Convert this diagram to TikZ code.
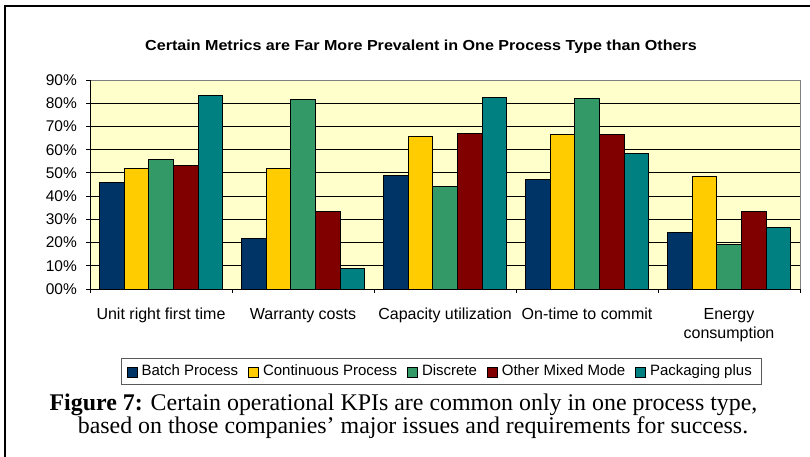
\documentclass[tikz,border=0pt]{standalone}
\usepackage{fontspec}
\setmainfont{Liberation Serif}
\setsansfont{Liberation Sans}
\usetikzlibrary{positioning}

\definecolor{batchc}{HTML}{003366}
\definecolor{contc}{HTML}{FFCC00}
\definecolor{discc}{HTML}{339966}
\definecolor{mixedc}{HTML}{800000}
\definecolor{packc}{HTML}{008080}
\definecolor{plotbg}{HTML}{FFFFCC}
\definecolor{rimgray}{HTML}{808080}

\tikzset{
  chartfont/.style={font=\sffamily\fontsize{15}{17}\selectfont},
  bar/.style={draw=black, line width=0.9pt},
  grid line/.style={black, line width=0.8pt},
  axis line/.style={black, line width=1pt},
  ylabel/.style={font=\sffamily\fontsize{15.5}{17}\selectfont, anchor=east, inner sep=0pt},
  catlabel/.style={font=\sffamily\fontsize{16}{18}\selectfont, anchor=base, inner sep=0pt},
  keybox/.style={draw=black, line width=0.8pt, minimum size=10pt, inner sep=0pt},
  keytext/.style={chartfont, inner sep=0pt, anchor=west, text height=10.8pt, text depth=3.5pt},
  captionfont/.style={font=\fontsize{23.9}{26}\selectfont, inner sep=0pt, anchor=base}
}

\begin{document}
\begin{tikzpicture}[x=1pt, y=-1pt]
\useasboundingbox (0,0) rectangle (810,456);
\fill[white] (0,0) rectangle (810,456);

% outer frame (left and top edges)
\draw[line width=2pt] (4.5,460) -- (4.5,6) -- (812,6);

% chart title
\node[font=\sffamily\bfseries\fontsize{14.5}{16}\selectfont, inner sep=0pt] (title) at (421,46.5)
  {\scalebox{1.11}[1]{Certain Metrics are Far More Prevalent in One Process Type than Others}};

% plot area
\fill[plotbg] (90,80) rectangle (800,289);
\foreach \k in {1,...,8} {
  \draw[grid line] (90,{289-\k*23.222}) -- (800,{289-\k*23.222});
}
\draw[rimgray, line width=1pt] (90,80) -- (800,80) -- (800,289);

% bars: category index, then values for the five process types
\foreach \c/\va/\vb/\vc/\vd/\ve in {
    0/46/51.9/56/53.4/83.5,
    1/21.8/51.9/81.7/33.3/8.9,
    2/49/65.5/44.2/66.8/82.6,
    3/47.3/66.7/82.1/66.7/58.4,
    4/24.4/48.4/19.2/33.4/26.3} {
  \pgfmathsetmacro{\x}{90+142*\c+9.26}
  \foreach \j/\v/\col in {0/\va/batchc, 1/\vb/contc, 2/\vc/discc, 3/\vd/mixedc, 4/\ve/packc} {
    \draw[bar, fill=\col] ({\x+\j*24.7},289) rectangle ({\x+(\j+1)*24.7},{289-\v*2.3222});
  }
}

% axes and tick marks
\draw[axis line] (90,80) -- (90,289) -- (800,289);
\foreach \k in {0,...,9} {
  \draw[axis line] (86,{289-\k*23.222}) -- (90,{289-\k*23.222});
}
\foreach \c in {0,...,5} {
  \draw[axis line] ({90+142*\c},289) -- ({90+142*\c},293);
}

% value axis labels
\foreach \k in {0,...,9} {
  \node[ylabel] (y\k) at (77,{289-\k*23.222}) {\k0\%};
}

% category labels
\node[catlabel] (cat1) at (161,319) {Unit right first time};
\node[catlabel] (cat2) at (303,319) {Warranty costs};
\node[catlabel] (cat3) at (445,319) {Capacity utilization};
\node[catlabel] (cat4) at (587,319) {On-time to commit};
\node[catlabel] (cat5a) at (729,319) {Energy};
\node[catlabel] (cat5b) at (729,338) {consumption};

% legend
\draw[rimgray!70!black, line width=1pt] (121.5,358.5) rectangle (761,384);
\node[keybox, fill=batchc] (k1) at (132.3,372.3) {};
\node[keytext, right=3.6pt of k1] (t1) {Batch Process};
\node[keybox, fill=contc, right=10pt of t1] (k2) {};
\node[keytext, right=3.6pt of k2] (t2) {Continuous Process};
\node[keybox, fill=discc, right=10pt of t2] (k3) {};
\node[keytext, right=3.6pt of k3] (t3) {Discrete};
\node[keybox, fill=mixedc, right=10pt of t3] (k4) {};
\node[keytext, right=3.6pt of k4] (t4) {Other Mixed Mode};
\node[keybox, fill=packc, right=10pt of t4] (k5) {};
\node[keytext, right=3.6pt of k5] (t5) {Packaging plus};

% figure caption
\node[captionfont] (cap1) at (403.5,410)
  {\textbf{Figure 7:} Certain operational KPIs are common only in one process type,};
\node[captionfont] (cap2) at (413,433)
  {based on those companies’ major issues and requirements for success.};
\end{tikzpicture}
\end{document}
